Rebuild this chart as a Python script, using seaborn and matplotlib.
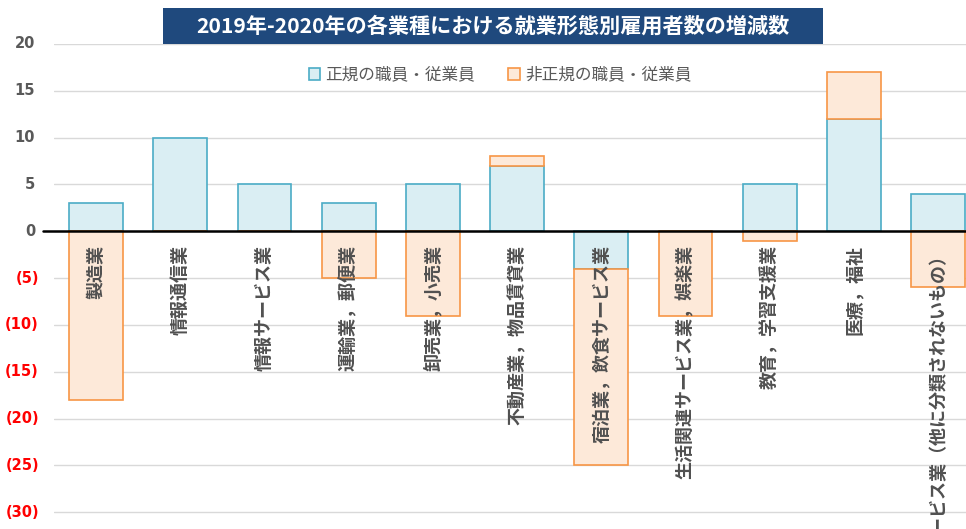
import matplotlib
matplotlib.use("Agg")
import matplotlib.pyplot as plt
from matplotlib.patches import Patch, Rectangle
import seaborn as sns
import pandas as pd
import numpy as np

categories = ["製造業", "情報通信業", "情報サービス業", "運輸業，郵便業", "卸売業，小売業",
              "不動産業，物品賃貸業", "宿泊業，飲食サービス業", "生活関連サービス業，娯楽業",
              "教育，学習支援業", "医療，福祉", "サービス業（他に分類されないもの）"]
regular = [3, 10, 5, 3, 5, 7, -4, 0, 5, 12, 4]
non_regular = [-18, 0, 0, -5, -9, 1, -21, -9, -1, 5, -6]
series_names = ["正規の職員・従業員", "非正規の職員・従業員"]
title = "2019年-2020年の各業種における就業形態別雇用者数の増減数"
yticks = [20, 15, 10, 5, 0, -5, -10, -15, -20, -25, -30]

sns.set_theme(style="white")
plt.rcParams['font.family'] = ['Noto Sans CJK JP', 'DejaVu Sans']

W, H = 966, 529
fig = plt.figure(figsize=(W / 100, H / 100), dpi=100)
ax = fig.add_axes([54 / W, 0, 1 - 54 / W, (H - 44) / H])

reg_fill, reg_edge = "#DAEEF3", "#4BACC6"
non_fill, non_edge = "#FDE9D9", "#F79646"

df = pd.DataFrame({"cat": categories, "reg": regular, "non": non_regular})
bottoms = [r if (r * n > 0) else 0 for r, n in zip(regular, non_regular)]

sns.barplot(data=df, x="cat", y="reg", order=categories, color=reg_fill,
            edgecolor=reg_edge, linewidth=1.2, width=0.64, ax=ax, saturation=1,
            errorbar=None, zorder=2)
sns.barplot(data=df, x="cat", y="non", order=categories, color=non_fill,
            edgecolor=non_edge, linewidth=1.2, width=0.64, ax=ax, saturation=1,
            errorbar=None, bottom=bottoms, zorder=2)

ax.set_ylim(-31.8, 20)
ax.set_xlim(-0.5, -0.5 + (W - 54) / 84.2)
ax.set_yticks(yticks)
ax.set_yticklabels([])
ax.set_xticks([])
ax.set_xlabel("")
ax.set_ylabel("")
for s in ax.spines.values():
    s.set_visible(False)
ax.tick_params(length=0)
ax.grid(axis="y", color="#D9D9D9", linewidth=1.0, zorder=0)
ax.set_axisbelow(True)

ytrans = ax.get_yaxis_transform()
for v in yticks:
    if v >= 0:
        ax.text(-19 / (W - 54), v, f"{v}", transform=ytrans, ha="right", va="center",
                color="#595959", fontsize=10.5, fontweight="bold", family="DejaVu Sans")
    else:
        ax.text(-15 / (W - 54), v, f"({-v})", transform=ytrans, ha="right", va="center",
                color="#FF0000", fontsize=10.5, fontweight="bold", family="DejaVu Sans")

ax.plot([-11 / (W - 54), 1], [0, 0], transform=ytrans, color="black", lw=1.8,
        clip_on=False, zorder=5)

for i, c in enumerate(categories):
    ax.text(i, -1.5, c, rotation=90, ha="center", va="top", color="#505050",
            fontsize=13, fontweight="bold", zorder=6)

handles = [Patch(facecolor=reg_fill, edgecolor=reg_edge, linewidth=1.2),
           Patch(facecolor=non_fill, edgecolor=non_edge, linewidth=1.2)]
fig.legend(handles, series_names, loc="center", bbox_to_anchor=(500 / W, 1 - 75 / H),
           ncol=2, frameon=False, fontsize=12, handlelength=0.7, handleheight=0.7,
           handletextpad=0.3, columnspacing=2.0, labelcolor="#595959")

fig.patches.append(Rectangle((163 / W, 1 - 44 / H), (823 - 163) / W, 36 / H,
                             transform=fig.transFigure, facecolor="#1F497D",
                             edgecolor="none", zorder=10))
fig.text(493 / W, 1 - 26 / H, title, ha="center", va="center", color="white",
         fontsize=15.2, fontweight="bold", zorder=11)

fig.savefig("out.png", dpi=100)
